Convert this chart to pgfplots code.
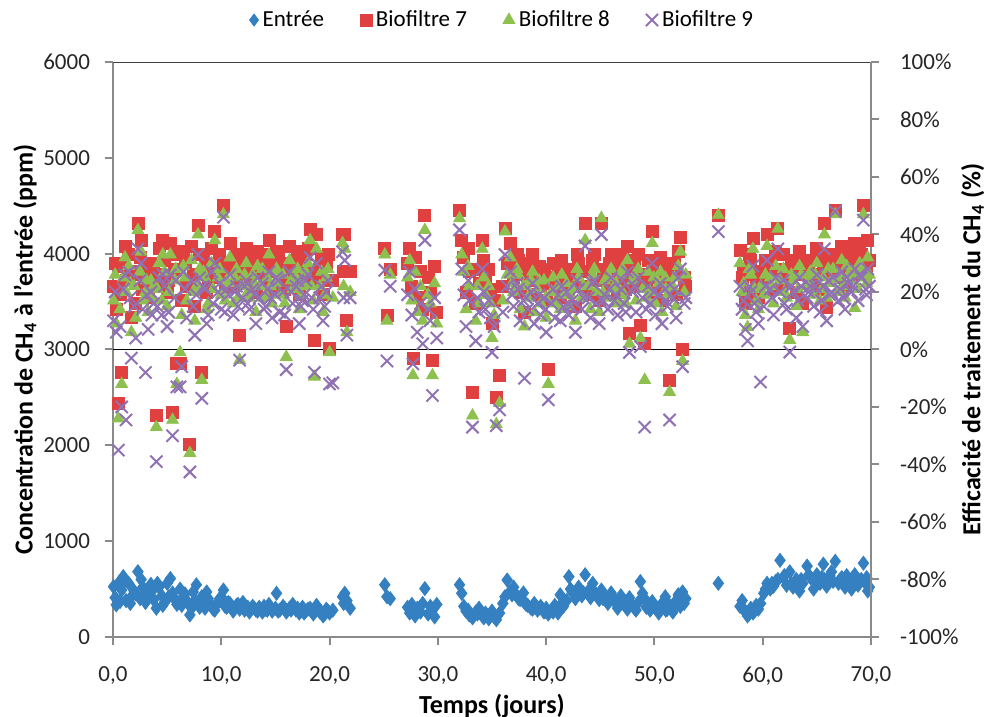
\documentclass[border=0pt]{standalone}
\usepackage{fontspec}
\setmainfont{Carlito}
\usepackage{pgfplots}
\pgfplotsset{compat=1.18}
\usepackage{pgfplotstable}

\definecolor{cEnt}{HTML}{3480C0}
\definecolor{cB7}{HTML}{E0403F}
\definecolor{cB8}{HTML}{8DC04F}
\definecolor{cB9}{HTML}{9072B4}
\definecolor{axgray}{HTML}{8A8A8A}

% t (jours), E = entree (ppm), B7 B8 B9 = efficacite (%)
\pgfplotstableread{
t E B7 B8 B9
0.05 525 22 17 10
0.2 410 30 26 20
0.3 335 14 9 6
0.5 560 -18.6 -24 -35
0.65 370 19 14 8
0.8 490 -8 -12 -20
0.95 630 29 25 21
1.1 590 36 32 26
1.2 380 24 20 -24.5
1.45 560 33 29 27
1.6 350 27 23 18
1.7 420 11 6 -3
1.95 480 26 22 15
2.1 450 16 11 4
2.3 682 44 41.5 35
2.5 400 32 27 24
2.6 600 38 34 30
2.75 520 21 17 14
3.0 360 25 20 -8
3.1 430 29 24 19
3.25 470 18 13 7
3.5 550 30 24 20
3.6 480 22 18 12
3.75 390 27 22 16
4.0 300 -23 -27 -39
4.1 560 26 21 15
4.25 520 35 30 25
4.5 430 23 17 12
4.6 330 38 33 26
4.75 360 31 27 22
5.0 560 20 15 8
5.15 420 24 20 13
5.3 610 37 33 26
5.5 460 -22 -24.5 -30
5.7 400 28 24 18
5.8 380 33 28 24
5.9 340 -5 -12 -13
6.2 500 -5 -1 -13
6.35 330 17 12 -6
6.5 420 34 29 27
6.65 450 30 25 21
6.8 380 22 17 11
7.1 230 -33 -36 -42.6
7.25 300 36 31 24
7.4 470 26 20 15
7.55 380 15 10 5
7.7 545 26 22 19
7.85 360 43 40 33
8.0 310 33 28 25
8.2 420 -8 -10.6 -17
8.35 350 33 27 22
8.5 300 29 25 21
8.65 470 20 14 9
8.8 400 24 16 12
9.1 330 35 30 27
9.25 290 26 21 16
9.4 280 41 38 30
9.7 360 30 25 20
9.85 400 33 28 23
10.0 420 25 19 14
10.2 490 50 47 46
10.35 320 22 17 13
10.5 310 30 24 21
10.65 360 28 23 19
10.8 350 37 32 26
11.1 270 22 16 12
11.25 300 31 25 20
11.4 330 33 28 22
11.55 340 24 18 15
11.7 290 5 -3.7 -3.7
12.0 360 28 22 18
12.15 280 32 26 22
12.3 300 35 30 24
12.45 310 26 20 16
12.6 260 23 18 14
12.9 320 31 26 21
13.05 300 29 23 19
13.2 280 20 13 9
13.35 270 34 29 25
13.5 310 27 22 18
13.8 260 33 28 23
13.95 320 24 18 14
14.1 290 25 19 15
14.25 280 30 25 21
14.4 340 38 33 27
14.55 300 27 22 18
14.7 270 21 16 11
15.0 300 28 23 19
15.1 456 34 28 25
15.25 270 32 27 24
15.4 280 24 19 13
15.7 320 30 26 20
15.85 300 21 16 12
16.0 260 8 -2.6 -7
16.3 300 36 31 27
16.45 280 29 24 20
16.6 340 26 21 16
16.9 280 31 25 22
17.05 300 34 28 24
17.2 250 19 14 9
17.35 270 24 19 15
17.5 310 27 22 17
17.65 250 29 23 19
17.8 270 33 27 24
18.0 290 35 30 26
18.2 300 41.6 38 32
18.35 270 27 22 18
18.5 240 23 17 14
18.6 280 3 -9.5 -8
18.8 330 40 35 30
19.1 260 28 22 18
19.25 260 32 27 22
19.4 220 19 13 10
19.55 240 24 19 15
19.7 290 30 25 20
19.85 270 33 28 24
20.0 250 0.5 -1 -12
20.3 280 24 18 -11.6
21.2 420 40 37 34
21.3 350 27 22 18
21.4 456 40 35 31
21.6 380 10 6 5
21.9 300 27 20 18
25.1 545 35 33 27.6
25.3 420 12 10 -4
25.6 400 28 26 22
27.2 310 30 25 19
27.4 250 35 31 27
27.6 340 22 17 12
27.7 280 -3 -9 -5
27.9 220 32 27 21
28.1 300 18 13 6
28.4 260 27 22 16
28.6 350 14 10 2
28.8 505 46.7 41.5 38
29.1 240 25 19 14
29.3 320 20 16 10
29.5 280 -3.7 -9 -16
29.7 210 29 23 18
29.9 340 13 9 4
32.0 545 48.5 45.6 41.6
32.2 456 38 33 28
32.4 320 32 27 19
32.6 270 20 14 8
32.8 280 35 29 24
32.9 230 27 22 17
33.2 200 -14.8 -23 -27
33.5 260 16 10 3
33.65 240 28 22 18
33.8 300 23 16 13
34.1 220 38 35 28
34.25 200 31 25 20
34.4 250 25 19 14
34.7 190 28 22 17
34.85 230 21 16 11
35.0 270 9 4 -1
35.2 210 17 12 8
35.4 180 -16.5 -26 -26.5
35.7 250 -9 -18.6 -21
36.0 350 22 17 13
36.2 420 42 41 33
36.4 595 30 26 22
36.7 480 37 32 27
36.85 440 28 23 19
37.0 520 25 20 15
37.3 430 33 28 23
37.45 400 31 26 21
37.6 390 20 14 10
37.9 460 27 22 17
38.0 360 13 8 -10
38.15 340 27 22 18
38.3 330 24 18 14
38.6 300 30 24 20
38.75 290 33 27 23
38.9 350 19 13 9
39.2 280 26 21 16
39.35 300 29 24 19
39.5 320 22 16 12
39.8 260 28 24 18
39.95 270 23 18 14
40.0 300 17 11 6
40.2 240 -7 -12 -17.5
40.5 280 25 20 16
40.65 260 30 25 21
40.8 330 21 16 11
41.1 250 27 22 19
41.3 440 18 14 10
41.45 350 31 26 22
41.6 320 24 19 15
41.9 380 28 23 20
42.1 630 20 15 12
42.25 500 24 19 15
42.4 470 26 21 17
42.7 400 15 10 6
42.85 450 33 28 24
43.0 520 30 25 21
43.3 430 22 18 14
43.45 460 27 22 18
43.6 650 44 38 36
43.9 480 27 22 18
44.1 410 19 14 11
44.3 560 31 26 23
44.45 470 33 28 24
44.6 450 24 20 16
44.9 390 17 13 9
45.1 490 44 45.7 40
45.25 400 25 20 17
45.4 420 28 24 19
45.7 350 22 18 14
45.85 420 30 25 21
46.0 460 33 28 25
46.3 380 26 21 17
46.45 350 28 23 19
46.6 300 20 16 12
46.9 430 30 26 21
47.05 380 33 28 24
47.2 350 24 19 16
47.35 320 21 16 13
47.5 290 36 31 27
47.7 410 5.7 2 -1
48.0 330 28 24 20
48.15 300 31 26 22
48.3 280 22 17 13
48.5 360 33 28 25
48.7 578 8.5 4 1
48.9 456 26 21 18
49.1 400 2 -10.6 -27
49.25 310 23 18 14
49.4 330 31 27 22
49.6 280 25 20 16
49.8 370 41 37 30
49.95 320 29 25 20
50.1 300 20 16 12
50.4 250 28 23 19
50.55 300 32 27 23
50.7 350 17 13 9
51.0 420 30 25 21
51.05 280 26 21 17
51.2 290 24 19 15
51.4 330 -10.6 -14.8 -24.5
51.7 260 27 22 18
51.85 310 30 25 21
52.0 380 19 15 11
52.2 440 34 29 25
52.4 320 39 34 28
52.6 470 0 -4 -6
52.75 350 25 20 16
52.9 400 22 26 18
55.9 560 46.8 46.8 41
57.9 320 34.6 30 22
58.1 380 25 20 14
58.25 290 28 23 17
58.4 260 16 12 7
58.6 220 20 7.8 3
58.75 240 33 28 22
58.9 300 31 26 20
59.1 250 38.8 35 29
59.25 270 26 21 16
59.4 330 22 17 13
59.6 290 18 14 9
59.8 350 27 22 -11.3
60.1 456 24 19 15
60.25 500 31 26 22
60.4 560 40 36 31
60.7 500 30 25 21
60.85 560 27 22 18
61.0 530 21 16 12
61.2 580 34 29 25
61.4 600 42 42 35
61.6 800 28 24 20
61.9 620 33 28 24
62.0 640 25 20 16
62.2 540 23 18 14
62.5 680 7.5 3.3 -0.9
62.65 560 31 26 22
62.8 520 29 24 20
63.1 600 20 15 11
63.25 540 26 21 17
63.4 480 34 29 25
63.55 600 31 26 22
63.7 560 16 6 8
64.1 740 27 22 18
64.25 650 29 24 20
64.4 620 31 27 22
64.7 500 24 19 15
64.85 580 31 26 22
65.0 650 35 30 26
65.3 560 21 17 13
65.45 620 26 21 17
65.6 760 30 25 22
65.7 600 44 40 35
65.9 530 14.8 18 10
66.05 600 33 28 24
66.2 640 27 23 19
66.35 680 29 24 20
66.5 580 33 28 25
66.7 790 48.5 47 48
67.0 560 25 20 17
67.15 600 30 25 21
67.3 620 36 31 27
67.45 560 27 22 18
67.6 520 22 18 14
67.75 640 34 29 25
67.9 590 31 26 23
68.2 500 28 24 20
68.35 560 30 26 22
68.5 650 37 14.4 28
68.8 540 26 21 17
68.95 580 35 30 26
69.1 600 33 28 25
69.3 770 50 47 45
69.5 560 30 25 21
69.6 620 28 23 19
69.7 480 38 32 28
69.85 520 31 26 22
}\data

\begin{document}
\begin{tikzpicture}[font=\fontsize{11.5}{13}\selectfont]
\pgfplotsset{
  base/.style={
    width=379pt, height=287.5pt, scale only axis,
    xmin=0, xmax=70,
    axis line style={axgray, line width=1pt},
    tick style={axgray, line width=1pt},
    major tick length=4pt, tick align=outside,
    /pgf/number format/assume math mode=true,
    /pgf/number format/1000 sep={},
    label style={font=\bfseries\fontsize{13}{15}\selectfont},
    every tick label/.append style={color=black!85},
  }
}
\begin{axis}[base,
  axis y line*=left, axis x line*=bottom,
  ymin=0, ymax=6000, ytick={0,1000,...,6000},
  yticklabel style={xshift=-4pt},
  xtick={0,10,...,70},
  xticklabel style={yshift=-7.5pt, /pgf/number format/.cd, fixed, fixed zerofill, precision=1, use comma},
  xlabel={Temps (jours)},
  ylabel={Concentration de CH\textsubscript{4} à l'entrée (ppm)},
  ylabel style={at={(axis description cs:-0.116,0.5)}, anchor=center},
  xlabel style={at={(axis description cs:0.5,-0.12)}, anchor=center},
]
\draw[black!75, line width=1pt] (rel axis cs:0,1) -- (rel axis cs:1,1);
\addplot[only marks, mark=diamond*, mark size=3.5pt, color=cEnt, fill=cEnt]
  table[x=t, y=E] {\data};
\end{axis}
\begin{axis}[base,
  axis y line*=right, axis x line=none,
  ymin=-100, ymax=100, ytick={-100,-80,...,100},
  yticklabel={\pgfmathprintnumber{\tick}\%},
  yticklabel style={xshift=7pt},
  ylabel={Efficacité de traitement du CH\textsubscript{4} (\%)},
  ylabel style={at={(axis description cs:1.134,0.5)}, anchor=center},
  legend columns=4,
  legend style={draw=none, fill=none, at={(axis description cs:0.515,1.073)}, anchor=center,
    font=\fontsize{11.5}{13}\selectfont,
    /tikz/every even column/.append style={column sep=16pt}},
]
\addlegendimage{only marks, mark=diamond*, mark size=3pt, color=cEnt, fill=cEnt}
\addlegendentry{Entrée}
\addplot[black, line width=0.8pt, forget plot] coordinates {(0,0) (70,0)};
\addplot[only marks, mark=square*, mark size=3pt, color=cB7, fill=cB7]
  table[x=t, y=B7] {\data};
\addlegendentry{Biofiltre 7}
\addplot[only marks, mark=triangle*, mark size=3.4pt, color=cB8, fill=cB8]
  table[x=t, y=B8] {\data};
\addlegendentry{Biofiltre 8}
\addplot[only marks, mark=x, mark size=4.3pt, color=cB9, line width=1pt]
  table[x=t, y=B9] {\data};
\addlegendentry{Biofiltre 9}
\end{axis}
\pgfresetboundingbox
\path[use as bounding box] (-56.5pt,-40pt) rectangle (439.5pt,318.5pt);
\end{tikzpicture}
\end{document}
